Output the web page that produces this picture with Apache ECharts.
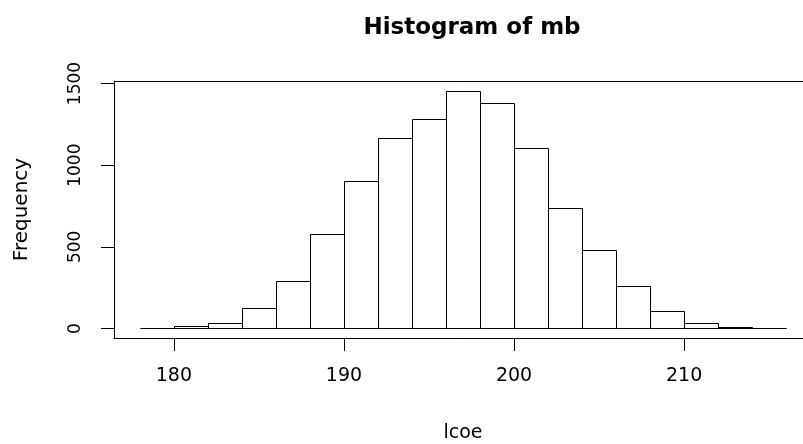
<!DOCTYPE html>
<html>
<head>
<meta charset="utf-8">
<script src="https://cdn.jsdelivr.net/npm/echarts@6/dist/echarts.min.js"></script>
<style>
html,body{margin:0;padding:0;background:#fff;}
#chart{width:803px;height:444px;}
</style>
</head>
<body>
<div id="chart"></div>
<script>
// Histogram data (bin breaks and frequencies)
const breaks = [178,180,182,184,186,188,190,192,194,196,198,200,202,204,206,208,210,212,214,216];
const counts = [2,18,34,123,289,578,904,1168,1281,1457,1379,1107,738,482,263,105,34,7,5];
const xTicks = [180,190,200,210];
const yTicks = [0,500,1000,1500];
const titleText = 'Histogram of mb';
const xName = 'lcoe';
const yName = 'Frequency';

const bins = counts.map((c, i) => [breaks[i], breaks[i + 1], c]);

// R-style 4% axis extension
const xLo = breaks[0], xHi = breaks[breaks.length - 1];
const xPad = (xHi - xLo) * 0.04;
const yHi = Math.max.apply(null, counts);
const yPad = yHi * 0.04;

const FONT = 'DejaVu Sans';
const lineStyle = {color: '#000', width: 1};
const chart = echarts.init(document.getElementById('chart'), null, {renderer: 'canvas'});
chart.setOption({
  backgroundColor: '#fff',
  animation: false,
  title: {
    text: titleText,
    left: 467, top: 12, textAlign: 'center',
    textStyle: {fontFamily: FONT, fontWeight: 'bold', fontSize: 23, color: '#000'}
  },
  grid: {
    left: 114, top: 81, width: 698, height: 257,
    containLabel: false, outerBoundsMode: 'none',
    show: false
  },
  xAxis: [{
    type: 'value',
    position: 'bottom',
    min: xLo - xPad, max: xHi + xPad,
    name: xName, nameLocation: 'middle', nameGap: 86,
    nameTextStyle: {fontFamily: FONT, fontSize: 19, color: '#000'},
    axisLine: {show: true, onZero: false, lineStyle: lineStyle},
    splitLine: {show: false},
    axisTick: {show: true, length: 13, inside: false, customValues: xTicks, lineStyle: lineStyle},
    axisLabel: {show: true, customValues: xTicks, margin: 29, fontFamily: FONT, fontSize: 19, color: '#000',
      formatter: function (v) { return String(v); }}
  }, {
    type: 'value',
    position: 'top',
    min: xLo - xPad, max: xHi + xPad,
    axisLine: {show: true, onZero: false, lineStyle: lineStyle},
    splitLine: {show: false},
    axisTick: {show: false},
    axisLabel: {show: false}
  }],
  yAxis: {
    type: 'value',
    min: -yPad, max: yHi + yPad,
    name: yName, nameLocation: 'middle', nameGap: 82, nameRotate: 90,
    nameTextStyle: {fontFamily: FONT, fontSize: 20, color: '#000'},
    axisLine: {show: true, onZero: false, lineStyle: lineStyle},
    splitLine: {show: false},
    axisTick: {show: true, length: 13, inside: false, customValues: yTicks, lineStyle: lineStyle},
    axisLabel: {show: true, customValues: yTicks, rotate: 90, margin: 30, fontFamily: FONT, fontSize: 17, color: '#000',
      formatter: function (v) { return String(v); }}
  },
  series: [{
    type: 'custom',
    xAxisIndex: 0,
    data: bins,
    encode: {x: [0, 1], y: 2},
    renderItem: function (params, api) {
      const p0 = api.coord([api.value(0), 0]);
      const p1 = api.coord([api.value(1), api.value(2)]);
      const x0 = Math.round(p0[0]) + 0.5, x1 = Math.round(p1[0]) + 0.5;
      const yb = Math.round(p0[1]) + 0.5, yt = Math.round(p1[1]) + 0.5;
      return {
        type: 'rect',
        shape: {x: x0, y: yt, width: x1 - x0, height: yb - yt},
        style: {fill: '#fff', stroke: '#000', lineWidth: 1}
      };
    }
  }]
});
</script>
</body>
</html>
